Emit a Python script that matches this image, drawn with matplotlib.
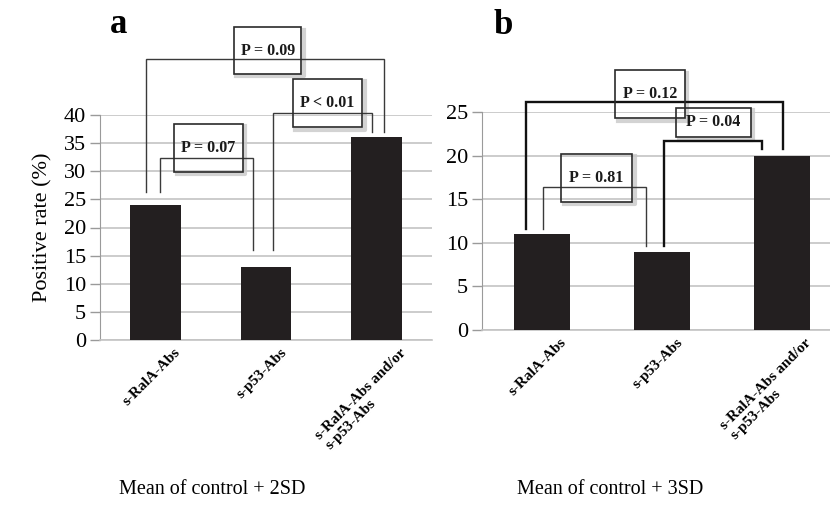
import matplotlib
matplotlib.use("Agg")
from matplotlib import pyplot as plt
from matplotlib import transforms
from matplotlib.patches import Rectangle

plt.rcParams['font.family'] = ['Liberation Serif', 'DejaVu Serif']

# data
categories = ['s-RalA-Abs', 's-p53-Abs', 's-RalA-Abs and/or\ns-p53-Abs']
rate_2sd = [24, 13, 36]
rate_3sd = [11, 9, 20]
p_labels_2sd = ['P = 0.07', 'P = 0.09', 'P < 0.01']
p_labels_3sd = ['P = 0.81', 'P = 0.12', 'P = 0.04']

# bracket layout: left x, right x, top y, left leg bottom, right leg bottom, box (x0, x1, y0, y1), line width
brackets_2sd = [
    (0.04, 0.88, 32.4, 26.3, 16.0, (0.17, 0.79, 29.9, 38.4), 1.0),
    (-0.08, 2.07, 49.9, 26.3, 37.0, (0.71, 1.32, 47.3, 55.6), 1.0),
    (1.06, 1.96, 40.4, 16.0, 37.0, (1.24, 1.87, 37.8, 46.4), 1.0),
]
brackets_3sd = [
    (0.01, 0.87, 16.4, 11.6, 9.6, (0.16, 0.75, 14.7, 20.2), 1.0),
    (-0.13, 2.01, 26.1, 11.6, 20.8, (0.61, 1.19, 24.3, 29.8), 1.7),
    (1.02, 1.83, 21.7, 9.6, 20.8, (1.12, 1.74, 22.1, 25.5), 1.7),
]
# horizontal nudge of each category label, in pixels
label_shift = [-4, -4, -11]

BAR_COLOR = '#231f20'
GRID_COLOR = '#c4c4c4'

W, H = 830, 505
fig = plt.figure(figsize=(W / 100, H / 100), dpi=100)


def px_axes(left, right, bottom, top):
    return fig.add_axes([left / W, 1 - bottom / H, (right - left) / W, (bottom - top) / H])


def draw_panel(ax, values, ymax, xmax, labels, brackets):
    x = range(len(categories))
    ax.bar(x, values, width=0.46, color=BAR_COLOR, zorder=3)
    ax.set_xlim(-0.5, xmax)
    ax.set_ylim(0, ymax)
    ax.set_yticks(range(0, ymax + 1, 5))
    ax.set_xticks(list(x))
    ax.set_xticklabels([])
    ax.tick_params(axis='x', length=0)
    ax.tick_params(axis='y', length=7, width=1, color='#9a9a9a', labelsize=16, pad=3)
    ax.yaxis.grid(True, color=GRID_COLOR, lw=1.2, zorder=0)
    ax.set_axisbelow(True)
    for s in ['top', 'right']:
        ax.spines[s].set_visible(False)
    ax.spines['left'].set_color('#9a9a9a')
    ax.spines['bottom'].set_color(GRID_COLOR)
    ax.spines['bottom'].set_linewidth(1.2)

    # category labels, rotated, hung below the axis
    base = transforms.blended_transform_factory(ax.transData, ax.transAxes)
    for i, (name, dx) in enumerate(zip(categories, label_shift)):
        tr = transforms.offset_copy(base, fig=fig, x=dx, y=-6, units='dots')
        ax.text(i, 0, name, transform=tr, rotation=45, ha='center', va='top',
                fontsize=11, fontweight='bold', multialignment='left')

    shadow = transforms.offset_copy(ax.transData, fig=fig, x=2.5, y=-2.5, units='dots')
    for label, (x0, x1, top, b0, b1, box, lw) in zip(labels, brackets):
        col = '#111111' if lw > 1 else '#3a3a3a'
        ax.plot([x0, x0, x1, x1], [b0, top, top, b1], color=col, lw=lw,
                clip_on=False, zorder=5, solid_joinstyle='miter')
        bx0, bx1, by0, by1 = box
        ax.plot([bx0, bx1, bx1], [by0, by0, by1], color='#c8c8c8', lw=3,
                transform=shadow, clip_on=False, zorder=4, alpha=0.8)
        ax.add_patch(Rectangle((bx0, by0), bx1 - bx0, by1 - by0, fill=False,
                               edgecolor='#2a2a2a', lw=1.2, clip_on=False, zorder=6))
        ax.text((bx0 + bx1) / 2, (by0 + by1) / 2, label, ha='center', va='center',
                fontsize=11.5, fontweight='bold', color='#1a1a1a', zorder=7)


ax_a = px_axes(100, 432, 340, 115)
draw_panel(ax_a, rate_2sd, 40, 2.5, p_labels_2sd, brackets_2sd)
ax_a.set_ylabel('Positive rate (%)', fontsize=16, labelpad=8)

# panel b runs to the right edge of the picture (120 px per category)
ax_b = px_axes(482, 830, 330, 112)
draw_panel(ax_b, rate_3sd, 25, 2.4, p_labels_3sd, brackets_3sd)

fig.text(110 / W, 1 - 33 / H, 'a', fontsize=25, fontweight='bold', ha='left', va='baseline')
fig.text(493 / W, 1 - 34 / H, 'b', fontsize=25, fontweight='bold', ha='left', va='baseline')
fig.text(212 / W, 1 - 490 / H, 'Mean of control + 2SD', fontsize=14.5, ha='center', va='center')
fig.text(610 / W, 1 - 490 / H, 'Mean of control + 3SD', fontsize=14.5, ha='center', va='center')

fig.savefig('out.png', dpi=100)
